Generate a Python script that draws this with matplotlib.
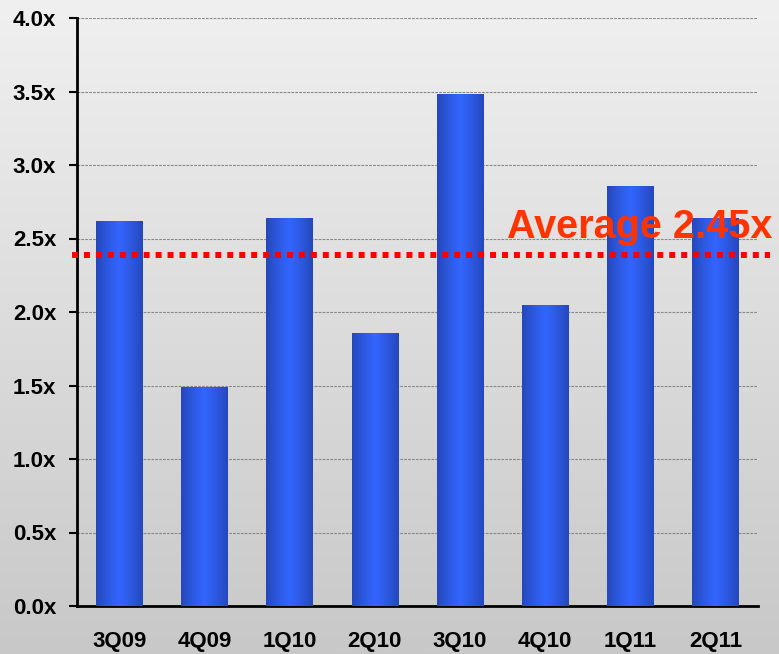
import numpy as np
import matplotlib
matplotlib.use("Agg")
import matplotlib.pyplot as plt
from matplotlib.colors import LinearSegmentedColormap

quarters = ["3Q09", "4Q09", "1Q10", "2Q10", "3Q10", "4Q10", "1Q11", "2Q11"]
multiples = [2.62, 1.49, 2.64, 1.86, 3.48, 2.05, 2.86, 2.64]
average_line = 2.39
average_label = "Average 2.45x"
yticks = [0.0, 0.5, 1.0, 1.5, 2.0, 2.5, 3.0, 3.5, 4.0]

plt.rcParams['font.family'] = ['Liberation Sans', 'DejaVu Sans']

W, H = 779, 654
fig = plt.figure(figsize=(W / 100, H / 100), dpi=100)

# background gradient
bg = fig.add_axes([0, 0, 1, 1], zorder=-10)
grad = np.linspace(0, 1, 256).reshape(-1, 1)
bg_cmap = LinearSegmentedColormap.from_list("bg", ["#f0f0f0", "#c8c8c8"])
bg.imshow(grad, aspect="auto", cmap=bg_cmap, extent=[0, 1, 0, 1], origin="upper")
bg.set_axis_off()

ax_l, ax_r, ax_t, ax_b = 77, 758, 18, 606
ax = fig.add_axes([ax_l / W, 1 - ax_b / H, (ax_r - ax_l) / W, (ax_b - ax_t) / H])
ax.patch.set_alpha(0)

x = np.arange(len(quarters))
bars = ax.bar(x, multiples, width=0.55, color="#3060f0", zorder=2)

bar_cmap = LinearSegmentedColormap.from_list(
    "bar", ["#2547bb", "#2d59e0", "#3366ff", "#2d59e0", "#2547bb"])
hgrad = np.linspace(0, 1, 256).reshape(1, -1)
for b in bars:
    x0, w, h = b.get_x(), b.get_width(), b.get_height()
    im = ax.imshow(hgrad, aspect="auto", cmap=bar_cmap,
                   extent=[x0, x0 + w, 0, h], zorder=3)
    im.set_clip_path(b)

ax.set_xlim(-0.5, 7.5)
ax.set_ylim(0, 4.0)
ax.set_yticks(yticks)
ax.set_yticklabels([f"{v:.1f}x" for v in yticks], fontsize=16, fontweight="bold")
ax.set_xticks(x)
ax.set_xticklabels(quarters, fontsize=16, fontweight="bold")
ax.tick_params(axis="x", length=0, pad=18)
ax.tick_params(axis="y", length=6, width=1.5, direction="out", pad=9)
ax.yaxis.grid(True, linestyle=(0, (2.5, 1)), color="#8a8a8a", linewidth=0.8, zorder=1)
ax.set_axisbelow(True)
for s in ["top", "right"]:
    ax.spines[s].set_visible(False)
ax.spines["left"].set_linewidth(2)
ax.spines["bottom"].set_linewidth(2)

span = ax_r - ax_l
ax.axhline(average_line, xmin=(72 - ax_l) / span, xmax=(770 - ax_l) / span,
           color="#ff0000", linewidth=4.3, linestyle=(0, (1, 1)),
           zorder=5, clip_on=False)
ax.text(4.55, 2.50, average_label, color="#ff3300", fontsize=28.5,
        fontweight="bold", ha="left", va="baseline", zorder=6, clip_on=False)

fig.savefig("out.png", dpi=100)
